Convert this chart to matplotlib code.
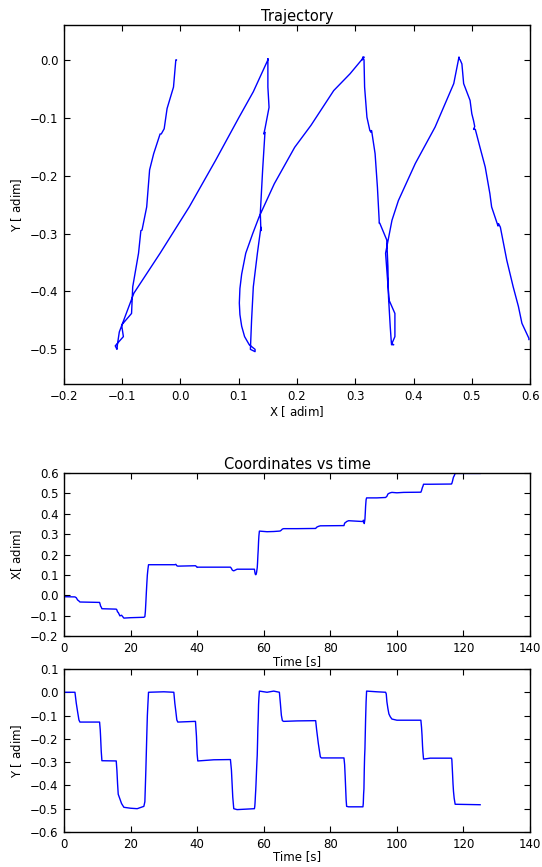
import matplotlib
matplotlib.use('Agg')
import matplotlib.pyplot as plt
import numpy as np

plt.rcParams['font.family'] = ['DejaVu Sans']
plt.rcParams['mathtext.fontset'] = 'dejavusans'

# time [s], X [adim], Y [adim]
t_s = [0.0, 3.3, 3.7, 4.1, 4.5, 4.8, 10.7, 10.9, 11.0, 11.2, 11.4,
       15.7, 15.9, 16.1, 16.3, 16.8, 17.3, 18.0, 20.0, 22.0, 24.0,
       24.3, 24.45, 24.6, 24.75, 24.9, 25.05, 25.2, 25.4, 30.0, 33.0,
       33.3, 33.6, 33.9, 34.2, 39.5, 39.8, 40.0, 40.2, 45.0, 50.0,
       50.3, 50.5, 50.7, 51.0, 52.0, 57.2, 57.3, 57.38, 57.45, 57.52,
       57.6, 57.68, 57.75, 57.85, 57.95, 58.05, 58.15, 58.25, 58.35, 58.45,
       58.55, 58.7, 61.0, 63.0, 64.7, 65.0, 65.3, 65.6, 66.0, 70.0,
       75.6, 75.9, 76.4, 77.0, 77.3, 84.1, 84.3, 84.45, 84.6, 84.75,
       84.9, 85.5, 89.8, 89.9, 90.0, 90.1, 90.2, 90.3, 90.4, 90.5,
       90.6, 90.75, 90.9, 94.0, 96.6, 96.8, 97.0, 97.3, 97.6, 98.0,
       98.5, 100.0, 102.0, 107.2, 107.4, 107.55, 107.7, 107.8, 108.0, 110.0,
       116.4, 116.5, 116.7, 116.85, 117.0, 117.2, 117.5, 125.0]
x_pos = [-0.007, -0.008, -0.012, -0.023, -0.028, -0.033, -0.035, -0.046, -0.053, -0.058, -0.066,
         -0.068, -0.072, -0.082, -0.084, -0.101, -0.098, -0.112, -0.110, -0.109, -0.108,
         -0.105, -0.080, -0.035, 0.015, 0.060, 0.100, 0.125, 0.150, 0.150, 0.150,
         0.150, 0.152, 0.145, 0.143, 0.145, 0.141, 0.137, 0.138, 0.138, 0.138,
         0.132, 0.125, 0.122, 0.120, 0.128, 0.128, 0.118, 0.110, 0.105, 0.102,
         0.101, 0.102, 0.105, 0.112, 0.124, 0.135, 0.161, 0.196, 0.224, 0.263,
         0.291, 0.315, 0.312, 0.313, 0.315, 0.316, 0.320, 0.325, 0.327, 0.327,
         0.328, 0.334, 0.338, 0.341, 0.341, 0.342, 0.354, 0.356, 0.357, 0.360,
         0.362, 0.366, 0.362, 0.368, 0.368, 0.358, 0.352, 0.363, 0.374, 0.403,
         0.437, 0.469, 0.478, 0.478, 0.480, 0.483, 0.486, 0.497, 0.500, 0.503,
         0.505, 0.503, 0.505, 0.506, 0.514, 0.523, 0.531, 0.534, 0.545, 0.545,
         0.546, 0.549, 0.560, 0.571, 0.580, 0.586, 0.598, 0.598]
y_pos = [0.000, 0.000, -0.047, -0.084, -0.119, -0.128, -0.128, -0.162, -0.190, -0.254, -0.294,
         -0.295, -0.334, -0.392, -0.438, -0.458, -0.478, -0.494, -0.498, -0.500, -0.490,
         -0.470, -0.403, -0.334, -0.254, -0.174, -0.100, -0.055, 0.000, 0.002, 0.000,
         -0.047, -0.082, -0.119, -0.128, -0.125, -0.190, -0.265, -0.295, -0.290, -0.289,
         -0.334, -0.392, -0.450, -0.500, -0.504, -0.500, -0.492, -0.478, -0.460, -0.440,
         -0.420, -0.395, -0.370, -0.334, -0.300, -0.271, -0.214, -0.151, -0.113, -0.053,
         -0.024, 0.005, 0.000, 0.005, 0.000, -0.047, -0.099, -0.122, -0.125, -0.123,
         -0.122, -0.162, -0.220, -0.277, -0.282, -0.282, -0.311, -0.357, -0.409, -0.461,
         -0.490, -0.492, -0.492, -0.478, -0.438, -0.415, -0.334, -0.277, -0.243, -0.179,
         -0.116, -0.041, 0.005, 0.002, 0.000, -0.007, -0.041, -0.070, -0.093, -0.105,
         -0.115, -0.120, -0.120, -0.120, -0.151, -0.185, -0.231, -0.254, -0.287, -0.283,
         -0.283, -0.289, -0.346, -0.392, -0.426, -0.455, -0.481, -0.483]

fs_tick = 8.5
fs_lab = 8.5
fs_title = 10.5

fig = plt.figure(figsize=(5.42, 8.67), dpi=100)
ax1 = fig.add_axes([0.118, 0.557, 0.860, 0.414])
ax2 = fig.add_axes([0.118, 0.2664, 0.860, 0.188])
ax3 = fig.add_axes([0.118, 0.0404, 0.860, 0.188])

ax1.plot(x_pos, y_pos, color='b', linewidth=1.0)
ax1.set_xlim(-0.2, 0.6)
ax1.set_ylim(-0.56, 0.06)
ax1.set_xticks(np.round(np.arange(-0.2, 0.61, 0.1), 1))
ax1.set_yticks(np.round(np.arange(-0.5, 0.01, 0.1), 1))
ax1.set_title('Trajectory', fontsize=fs_title, pad=3)
ax1.set_xlabel(r'X $[\ \mathrm{adim}]$', fontsize=fs_lab, labelpad=1)
ax1.set_ylabel(r'Y $[\ \mathrm{adim}]$', fontsize=fs_lab, labelpad=4)

ax2.plot(t_s, x_pos, color='b', linewidth=1.0)
ax2.set_xlim(0, 140)
ax2.set_ylim(-0.2, 0.6)
ax2.set_yticks(np.round(np.arange(-0.2, 0.61, 0.1), 1))
ax2.set_title('Coordinates vs time', fontsize=fs_title, pad=3)
ax2.set_xlabel('Time [s]', fontsize=fs_lab, labelpad=0)
ax2.set_ylabel(r'X$[\ \mathrm{adim}]$', fontsize=fs_lab, labelpad=4)

ax3.plot(t_s, y_pos, color='b', linewidth=1.0)
ax3.set_xlim(0, 140)
ax3.set_ylim(-0.6, 0.1)
ax3.set_yticks(np.round(np.arange(-0.6, 0.11, 0.1), 1))
ax3.set_xlabel('Time [s]', fontsize=fs_lab, labelpad=0)
ax3.set_ylabel(r'Y $[\ \mathrm{adim}]$', fontsize=fs_lab, labelpad=4)

fmt = matplotlib.ticker.FuncFormatter(
    lambda v, p: ('%.1f' % (0.0 if abs(v) < 1e-9 else v)).replace('-', '\u2212'))
for ax in (ax1, ax2, ax3):
    ax.tick_params(direction='in', top=True, right=True, labelsize=fs_tick,
                   length=4, width=0.8, pad=4)
    for sp in ax.spines.values():
        sp.set_linewidth(1.0)
    ax.yaxis.set_major_formatter(fmt)
ax1.xaxis.set_major_formatter(fmt)

plt.savefig('out.png', dpi=100)
